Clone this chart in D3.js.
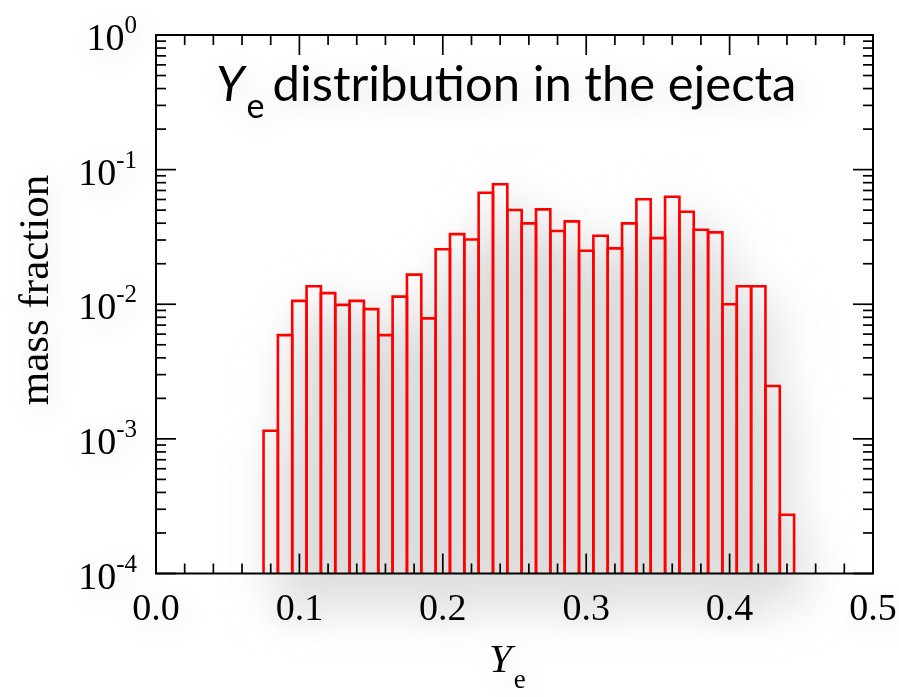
<!DOCTYPE html>
<html>
<head>
<meta charset="utf-8">
<script src="https://cdn.jsdelivr.net/npm/d3@7"></script>
<style>
  html, body { margin: 0; padding: 0; background: #ffffff; }
  svg { display: block; }
</style>
</head>
<body>
<div id="chart"></div>
<script>
// Histogram of electron fraction Ye in the ejecta (bin width 0.01)
const binCenters = [0.08, 0.09, 0.10, 0.11, 0.12, 0.13, 0.14, 0.15, 0.16, 0.17,
                    0.18, 0.19, 0.20, 0.21, 0.22, 0.23, 0.24, 0.25, 0.26, 0.27,
                    0.28, 0.29, 0.30, 0.31, 0.32, 0.33, 0.34, 0.35, 0.36, 0.37,
                    0.38, 0.39, 0.40, 0.41, 0.42, 0.43, 0.44];
const massFraction = [1.15e-3, 5.9e-3, 1.06e-2, 1.36e-2, 1.21e-2, 9.9e-3, 1.06e-2, 9.2e-3, 5.9e-3, 1.14e-2,
                      1.66e-2, 7.85e-3, 2.56e-2, 3.32e-2, 3.03e-2, 6.74e-2, 7.78e-2, 5.01e-2, 3.99e-2, 5.07e-2,
                      3.50e-2, 4.13e-2, 2.50e-2, 3.23e-2, 2.60e-2, 3.99e-2, 6.02e-2, 3.10e-2, 6.29e-2, 4.87e-2,
                      3.58e-2, 3.42e-2, 1.00e-2, 1.36e-2, 1.36e-2, 2.47e-3, 2.73e-4];
const binWidth = 0.01;
const xTicks = [0.0, 0.1, 0.2, 0.3, 0.4, 0.5];
const xTickLabels = ["0.0", "0.1", "0.2", "0.3", "0.4", "0.5"];
const yDecades = [0, -1, -2, -3, -4];
const yTickLabels = ["0", "-1", "-2", "-3", "-4"];

const W = 899, H = 697;
const plotL = 156, plotR = 873, plotT = 35, plotB = 573.5;

const svg = d3.select("#chart").append("svg")
  .attr("width", W).attr("height", H);

const defs = svg.append("defs");
const soft = defs.append("filter").attr("id", "soft")
  .attr("x", "-40%").attr("y", "-40%").attr("width", "180%").attr("height", "180%");
soft.append("feGaussianBlur").attr("stdDeviation", 24);

const glow = defs.append("filter").attr("id", "glow")
  .attr("x", "-50%").attr("y", "-100%").attr("width", "200%").attr("height", "300%");
glow.append("feGaussianBlur").attr("in", "SourceAlpha").attr("stdDeviation", 12).attr("result", "b");
glow.append("feOffset").attr("in", "b").attr("dx", 4).attr("dy", 6).attr("result", "o");
glow.append("feFlood").attr("flood-color", "#000").attr("flood-opacity", 0.13).attr("result", "c");
glow.append("feComposite").attr("in", "c").attr("in2", "o").attr("operator", "in").attr("result", "s");
const gm = glow.append("feMerge");
gm.append("feMergeNode").attr("in", "s");
gm.append("feMergeNode").attr("in", "SourceGraphic");

const x = d3.scaleLinear().domain([0, 0.5]).range([plotL, plotR]);
const y = d3.scaleLog().domain([1e-4, 1]).range([plotB, plotT]);

const bins = binCenters.map((c, i) => ({ x0: c - binWidth / 2, x1: c + binWidth / 2, v: massFraction[i] }));

// soft grey shadow beneath the histogram
svg.append("g").attr("filter", "url(#soft)")
  .selectAll("rect").data(bins).join("rect")
  .attr("x", d => x(d.x0) + 10)
  .attr("y", d => y(d.v) + 12)
  .attr("width", d => x(d.x1) - x(d.x0))
  .attr("height", d => plotB - y(d.v) + 20)
  .attr("fill", "#dcdcdc");

// histogram bars (outlines only)
svg.append("g")
  .selectAll("path").data(bins).join("path")
  .attr("d", d => `M${x(d.x0)},${plotB}V${y(d.v)}H${x(d.x1)}V${plotB}`)
  .attr("fill", "none")
  .attr("stroke", "#ff0000")
  .attr("stroke-width", 2.6)
  .attr("stroke-linejoin", "miter");

// frame and ticks
const axisG = svg.append("g").attr("stroke", "#000");
axisG.append("rect")
  .attr("x", plotL).attr("y", plotT).attr("width", plotR - plotL).attr("height", plotB - plotT)
  .attr("fill", "none").attr("stroke-width", 2);

const xMinor = d3.range(0, 0.5001, 0.02).filter(v => Math.abs(v * 10 - Math.round(v * 10)) > 1e-6);
function xTick(v, len) {
  axisG.append("line").attr("x1", x(v)).attr("x2", x(v)).attr("y1", plotB).attr("y2", plotB - len).attr("stroke-width", 1.7);
  axisG.append("line").attr("x1", x(v)).attr("x2", x(v)).attr("y1", plotT).attr("y2", plotT + len).attr("stroke-width", 1.7);
}
xTicks.forEach(v => xTick(v, 20));
xMinor.forEach(v => xTick(v, 10));

function yTick(v, len) {
  axisG.append("line").attr("x1", plotL).attr("x2", plotL + len).attr("y1", y(v)).attr("y2", y(v)).attr("stroke-width", 1.7);
  axisG.append("line").attr("x1", plotR).attr("x2", plotR - len).attr("y1", y(v)).attr("y2", y(v)).attr("stroke-width", 1.7);
}
yDecades.forEach(e => yTick(Math.pow(10, e), 20));
yDecades.slice(1).forEach(e => {
  d3.range(2, 10).forEach(m => yTick(m * Math.pow(10, e), 10));
});

// tick labels
const labelFont = "'Liberation Serif', 'Times New Roman', serif";
const labels = svg.append("g").attr("filter", "url(#glow)")
  .attr("font-family", labelFont).attr("fill", "#000");

xTicks.forEach((v, i) => {
  labels.append("text")
    .attr("x", x(v)).attr("y", 620)
    .attr("text-anchor", "middle")
    .attr("font-size", 38)
    .text(xTickLabels[i]);
});

yDecades.forEach((e, i) => {
  const t = labels.append("text")
    .attr("x", 137).attr("y", y(Math.pow(10, e)) + 15)
    .attr("text-anchor", "end")
    .attr("font-size", 38);
  t.append("tspan").text("10");
  t.append("tspan").attr("font-size", 25).attr("dy", -17).text(yTickLabels[i]);
});

// axis titles
labels.append("text")
  .attr("transform", "translate(48,290) rotate(-90)")
  .attr("text-anchor", "middle")
  .attr("font-size", 43)
  .text("mass fraction");

const xt = labels.append("text")
  .attr("x", 489).attr("y", 672)
  .attr("font-size", 41);
xt.append("tspan").attr("font-style", "italic").text("Y");
xt.append("tspan").attr("font-size", 27).attr("dy", 16).attr("dx", 2).text("e");

// title
const title = svg.append("g").attr("filter", "url(#glow)").append("text")
  .attr("x", 216).attr("y", 101)
  .attr("font-family", "Lato, 'Open Sans', sans-serif")
  .attr("font-size", 49)
  .attr("fill", "#000");
title.append("tspan").attr("font-style", "italic").text("Y");
title.append("tspan").attr("font-size", 34).attr("dy", 17).attr("dx", 2).text("e");
title.append("tspan").attr("dy", -17).attr("dx", 8).text("distribution in the ejecta");
</script>
</body>
</html>
